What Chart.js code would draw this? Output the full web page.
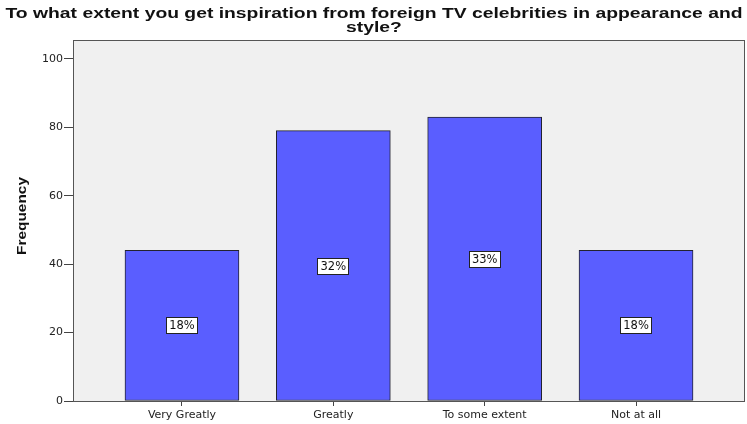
<!DOCTYPE html>
<html>
<head>
<meta charset="utf-8">
<script src="https://cdn.jsdelivr.net/npm/chart.js@4"></script>
<style>
  html, body { margin: 0; padding: 0; background: #fff; }
  #wrap { width: 747px; height: 424px; }
</style>
</head>
<body>
<div id="wrap"><canvas id="freqChart" width="747" height="424"></canvas></div>
<script>
// chart data
const categories = ["Very Greatly", "Greatly", "To some extent", "Not at all"];
const frequencies = [44, 79, 83, 44];
const percentLabels = ["18%", "32%", "33%", "18%"];
const yTicks = [0, 20, 40, 60, 80, 100];
const titleLines = ["To what extent you get inspiration from foreign TV celebrities in appearance and", "style?"];
const yTitle = "Frequency";

const ARIAL = "'Liberation Sans', Arial, sans-serif";
const WIDE = "'DejaVu Sans', Verdana, sans-serif";

// the source picture has wide lettering, so stretch the Arial-like text sideways
function stretchedText(ctx, text, x, y, sx) {
    ctx.save();
    ctx.translate(x, y);
    ctx.scale(sx, 1);
    ctx.fillText(text, 0, 0);
    ctx.restore();
}

// grey plot box behind the bars
const plotBox = {
    id: "plotBox",
    beforeDatasetsDraw(chart) {
        const a = chart.chartArea;
        const ctx = chart.ctx;
        ctx.save();
        ctx.fillStyle = "#f0f0f0";
        ctx.fillRect(a.left, a.top, a.right - a.left, a.bottom - a.top);
        ctx.strokeStyle = "#555";
        ctx.lineWidth = 1;
        ctx.strokeRect(a.left + 0.5, a.top + 0.5, a.right - a.left - 1, a.bottom - a.top);
        ctx.restore();
    }
};

// chart title and y axis title
const titles = {
    id: "titles",
    afterDraw(chart) {
        const ctx = chart.ctx;
        ctx.save();
        ctx.fillStyle = "#111";
        ctx.textAlign = "center";
        ctx.textBaseline = "alphabetic";
        ctx.font = "bold 15px " + ARIAL;
        const sx = 737 / ctx.measureText(titleLines[0]).width;
        stretchedText(ctx, titleLines[0], 374, 18, sx);
        stretchedText(ctx, titleLines[1], 374, 32, sx);

        ctx.font = "bold 13px " + ARIAL;
        const sy = 78 / ctx.measureText(yTitle).width;
        ctx.translate(26, 216);
        ctx.rotate(-Math.PI / 2);
        ctx.scale(sy, 1);
        ctx.fillText(yTitle, 0, 0);
        ctx.restore();
    }
};

// percentage boxes in the middle of each bar
const percentBoxes = {
    id: "percentBoxes",
    afterDatasetsDraw(chart) {
        const ctx = chart.ctx;
        const meta = chart.getDatasetMeta(0);
        ctx.save();
        ctx.font = "11.5px " + WIDE;
        ctx.textAlign = "center";
        ctx.textBaseline = "middle";
        meta.data.forEach((bar, i) => {
            const text = percentLabels[i];
            const cy = Math.round((bar.y + bar.base) / 2);
            const w = 32;
            const h = 17;
            const x0 = Math.round(bar.x - w / 2);
            const y0 = Math.round(cy - h / 2);
            ctx.fillStyle = "#fff";
            ctx.fillRect(x0, y0, w, h);
            ctx.strokeStyle = "#222";
            ctx.lineWidth = 1;
            ctx.strokeRect(x0 + 0.5, y0 + 0.5, w - 1, h - 1);
            ctx.fillStyle = "#111";
            ctx.fillText(text, bar.x, cy + 1);
        });
        ctx.restore();
    }
};

new Chart(document.getElementById("freqChart").getContext("2d"), {
    type: "bar",
    data: {
        datasets: [{
            label: "Frequency",
            data: frequencies.map((v, i) => ({ x: i + 1, y: v })),
            backgroundColor: "#5a5eff",
            borderColor: "#23232f",
            borderWidth: 1,
            borderSkipped: false,
            barThickness: 114
        }]
    },
    options: {
        responsive: false,
        animation: false,
        layout: { padding: { left: 0, right: 2, top: 40, bottom: 0 } },
        plugins: {
            legend: { display: false },
            tooltip: { enabled: false },
            title: { display: false }
        },
        scales: {
            x: {
                type: "linear",
                offset: false,
                min: 0.28,
                max: 4.72,
                afterBuildTicks(scale) {
                    scale.ticks = categories.map((c, i) => ({ value: i + 1 }));
                },
                afterFit(scale) { scale.height = 23; },
                ticks: {
                    callback: (v) => categories[v - 1],
                    color: "#222",
                    font: { family: WIDE, size: 11 },
                    padding: 3,
                    maxRotation: 0,
                    autoSkip: false
                },
                grid: { drawOnChartArea: false, offset: false, tickLength: 5, color: "#444" },
                border: { display: false }
            },
            y: {
                min: 0,
                max: 105.5,
                afterBuildTicks(scale) {
                    scale.ticks = yTicks.map(v => ({ value: v }));
                },
                afterFit(scale) { scale.width = 73; },
                ticks: {
                    color: "#222",
                    font: { family: WIDE, size: 11 },
                    padding: 1
                },
                grid: { drawOnChartArea: false, tickLength: 9, color: "#444" },
                border: { display: false }
            }
        }
    },
    plugins: [plotBox, percentBoxes, titles]
});
</script>
</body>
</html>
